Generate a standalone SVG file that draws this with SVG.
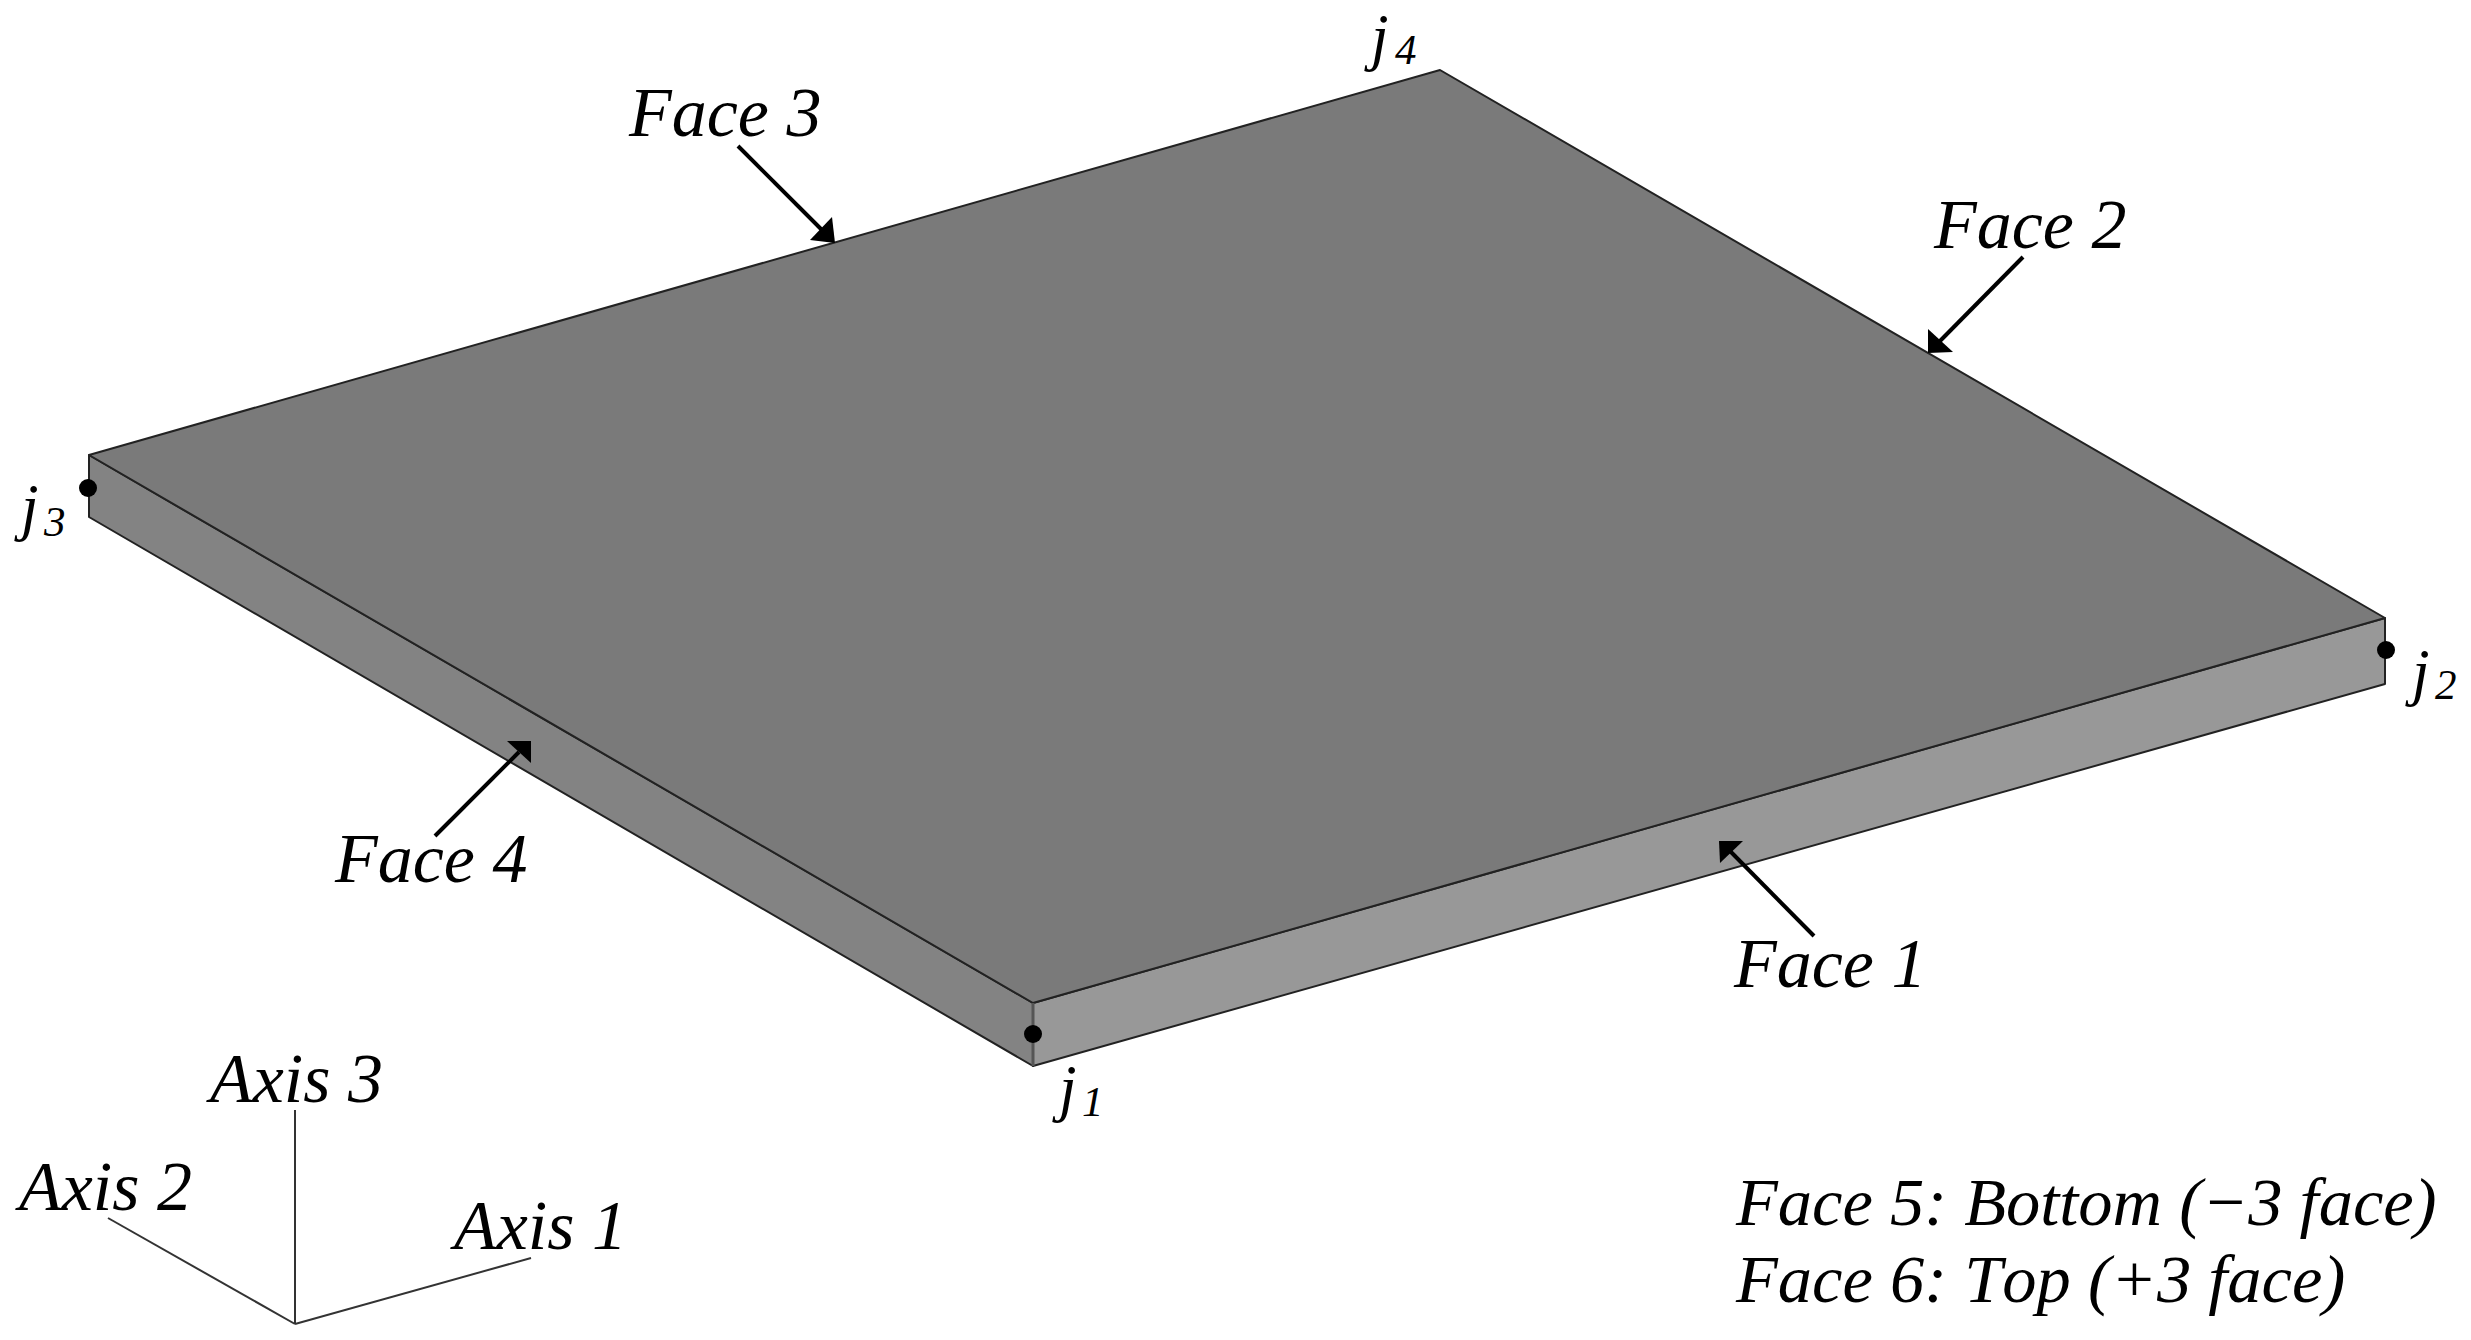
<svg xmlns="http://www.w3.org/2000/svg" width="2471" height="1340" viewBox="0 0 2471 1340">
<style>
text{font-family:"Liberation Serif","Times New Roman",serif;font-style:italic;fill:#000;font-kerning:none}
.l{font-size:70px}
.n{font-size:68.5px}
.j{font-size:63px}
.d{font-size:43px}
.e{stroke:#222;stroke-width:2;stroke-linejoin:round}
.ax{fill:none;stroke:#333;stroke-width:2}
.ar{fill:none;stroke:#000;stroke-width:4}
.h{fill:#000}
.dot{fill:#000}
</style>
<rect width="2471" height="1340" fill="#fff"/>
<g id="plate">
<polygon id="face-4-side" class="e" fill="#838383" points="89,455 1033,1003 1033,1066 89,517"/>
<polygon id="face-1-side" class="e" fill="#989898" points="1033,1003 2385,618 2385,684 1033,1066"/>
<polygon id="face-top" class="e" fill="#7a7a7a" points="89,455 1440,70 2385,618 1033,1003"/>
<line x1="1033" y1="1003" x2="1033" y2="1066" stroke="#555" stroke-width="3"/>
</g>
<g id="connectors">
<g id="arrow-face-3"><line class="ar" x1="738" y1="146" x2="822" y2="230"/><polygon class="h" points="835,243 832,217 810,240"/></g>
<g id="arrow-face-2"><line class="ar" x1="2023" y1="257" x2="1940" y2="341"/><polygon class="h" points="1928,353 1928,329 1953,352"/></g>
<g id="arrow-face-4"><line class="ar" x1="435" y1="836" x2="519" y2="752"/><polygon class="h" points="531,741 507,741 531,763"/></g>
<g id="arrow-face-1"><line class="ar" x1="1814" y1="936" x2="1730" y2="851"/><polygon class="h" points="1719,841 1743,841 1720,863"/></g>
<g id="axes">
<line class="ax" x1="295" y1="1324" x2="295" y2="1110"/>
<line class="ax" x1="295" y1="1324" x2="108" y2="1218"/>
<line class="ax" x1="295" y1="1324" x2="531" y2="1258"/>
</g>
</g>
<g id="joint-1"><circle class="dot" cx="1033" cy="1034" r="9"/><text class="j" x="1059" y="1109">j</text><text class="d" x="1082" y="1116">1</text></g>
<g id="joint-2"><circle class="dot" cx="2386" cy="650" r="9"/><text class="j" x="2412" y="693">j</text><text class="d" x="2435" y="699">2</text></g>
<g id="joint-3"><circle class="dot" cx="88" cy="488" r="9"/><text class="j" x="21" y="528">j</text><text class="d" x="44" y="536">3</text></g>
<g id="joint-4"><text class="j" x="1371" y="58">j</text><text class="d" x="1395" y="64">4</text></g>
<g id="label-face-1"><text class="l" x="1734" y="987">Face 1</text></g>
<g id="label-face-2"><text class="l" x="1934" y="248">Face 2</text></g>
<g id="label-face-3"><text class="l" x="629" y="136">Face 3</text></g>
<g id="label-face-4"><text class="l" x="335" y="882">Face 4</text></g>
<g id="label-axis-1"><text class="l" x="454" y="1249">Axis 1</text></g>
<g id="label-axis-2"><text class="l" x="19" y="1210">Axis 2</text></g>
<g id="label-axis-3"><text class="l" x="210" y="1102">Axis 3</text></g>
<g id="note-face-5"><text class="n" x="1736" y="1225">Face 5: Bottom (−3 face)</text></g>
<g id="note-face-6"><text class="n" x="1736" y="1302">Face 6: Top (+3 face)</text></g>
</svg>
